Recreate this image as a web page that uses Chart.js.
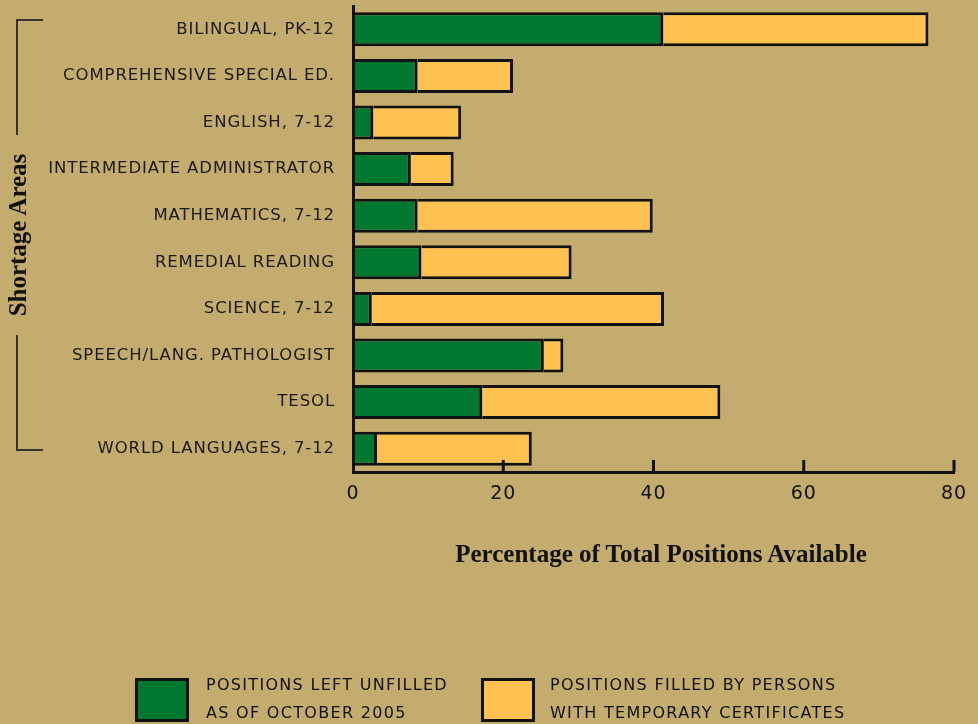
<!DOCTYPE html>
<html>
<head>
<meta charset="utf-8">
<script src="https://cdn.jsdelivr.net/npm/chart.js@4.4.1/dist/chart.umd.min.js"></script>
<style>
  html, body { margin: 0; padding: 0; background: #C4AC6E; }
  #wrap { position: relative; width: 978px; height: 724px; overflow: hidden; background: #C4AC6E; }
  canvas { position: absolute; left: 0; top: 0; }
  .serif { position: absolute; font-family: "Liberation Serif", "DejaVu Serif", serif; font-weight: bold; font-size: 25px; color: #111; white-space: nowrap; }
  #xtitle { left: 361px; width: 600px; top: 541px; line-height: 25px; text-align: center; }
  #ytitle { left: -82px; top: 220px; width: 200px; height: 30px; line-height: 30px; text-align: center; transform: rotate(-90deg); }
  .lbox { position: absolute; top: 678px; width: 48px; height: 38px; border: 3px solid #111; }
  .ltext { position: absolute; top: 671px; font-family: "DejaVu Sans", sans-serif; font-size: 16px; letter-spacing: 1.3px; line-height: 28px; color: #111; white-space: nowrap; }
</style>
</head>
<body>
<div id="wrap">
  <canvas id="c" width="978" height="724"></canvas>
  <div id="xtitle" class="serif">Percentage of Total Positions Available</div>
  <div id="ytitle" class="serif">Shortage Areas</div>
  <div class="lbox" style="left:135px; background:#00782F;"></div>
  <div class="ltext" style="left:206px;">POSITIONS LEFT UNFILLED<br>AS OF OCTOBER 2005</div>
  <div class="lbox" style="left:481px; background:#FFC14F;"></div>
  <div class="ltext" style="left:550px;">POSITIONS FILLED BY PERSONS<br>WITH TEMPORARY CERTIFICATES</div>
</div>
<script>
const categories = [
  "BILINGUAL, PK-12",
  "COMPREHENSIVE SPECIAL ED.",
  "ENGLISH, 7-12",
  "INTERMEDIATE ADMINISTRATOR",
  "MATHEMATICS, 7-12",
  "REMEDIAL READING",
  "SCIENCE, 7-12",
  "SPEECH/LANG. PATHOLOGIST",
  "TESOL",
  "WORLD LANGUAGES, 7-12"
];
const unfilled  = [41.3, 8.6, 2.7, 7.7, 8.6, 9.1, 2.5, 25.4, 17.2, 3.2];
const temporary = [35.3, 12.7, 11.7, 5.7, 31.3, 20.0, 38.9, 2.6, 31.7, 20.6];
const xTicks = [0, 20, 40, 60, 80];

const GREEN = '#00782F', YELLOW = '#FFC14F', INK = '#111111';

const deco = {
  id: 'deco',
  beforeDraw(chart) {
    chart.ctx.letterSpacing = '0.9px';
  },
  afterDatasetsDraw(chart) {
    const ctx = chart.ctx, xs = chart.scales.x, area = chart.chartArea;
    ctx.save();
    ctx.strokeStyle = INK;
    ctx.lineWidth = 3;
    xTicks.forEach(v => {
      if (v === 0) return;
      const px = xs.getPixelForValue(v);
      ctx.beginPath();
      ctx.moveTo(px, area.bottom - 12);
      ctx.lineTo(px, area.bottom);
      ctx.stroke();
    });
    ctx.restore();
  },
  afterDraw(chart) {
    const ctx = chart.ctx;
    ctx.letterSpacing = '0px';
    ctx.save();
    ctx.strokeStyle = '#333';
    ctx.lineWidth = 2;
    ctx.beginPath();
    ctx.moveTo(43, 20); ctx.lineTo(17, 20); ctx.lineTo(17, 135);
    ctx.moveTo(17, 335); ctx.lineTo(17, 450); ctx.lineTo(43, 450);
    ctx.stroke();
    ctx.restore();
  }
};

new Chart(document.getElementById('c'), {
  type: 'bar',
  data: {
    labels: categories,
    datasets: [
      { label: 'Positions left unfilled as of October 2005', data: unfilled,
        backgroundColor: GREEN, borderColor: INK, borderWidth: 3 },
      { label: 'Positions filled by persons with temporary certificates', data: temporary,
        backgroundColor: YELLOW, borderColor: INK, borderWidth: 3 }
    ]
  },
  options: {
    indexAxis: 'y',
    responsive: false,
    animation: false,
    devicePixelRatio: 1,
    layout: { padding: { left: 0, right: 24, top: 6, bottom: 0 } },
    datasets: { bar: { categoryPercentage: 1, barPercentage: 0.73 } },
    plugins: { legend: { display: false }, tooltip: { enabled: false } },
    scales: {
      x: {
        type: 'linear', stacked: true, min: 0, max: 80,
        afterBuildTicks(scale) { scale.ticks = xTicks.map(v => ({ value: v })); },
        afterFit(scale) { scale.height = 252; scale.paddingLeft = 0; scale.paddingRight = 0; },
        grid: { display: false, drawTicks: false },
        border: { display: true, color: INK, width: 3, z: 1 },
        ticks: { color: INK, padding: 11, font: { family: 'DejaVu Sans', size: 19 } }
      },
      y: {
        stacked: true,
        afterFit(scale) { scale.width = 353; scale.paddingTop = 0; scale.paddingBottom = 0; },
        grid: { display: false, drawTicks: false },
        border: { display: true, color: INK, width: 3, z: 1 },
        ticks: { color: '#1a1a1a', padding: 18, font: { family: 'DejaVu Sans', size: 16.5 } }
      }
    }
  },
  plugins: [deco]
});
</script>
</body>
</html>
